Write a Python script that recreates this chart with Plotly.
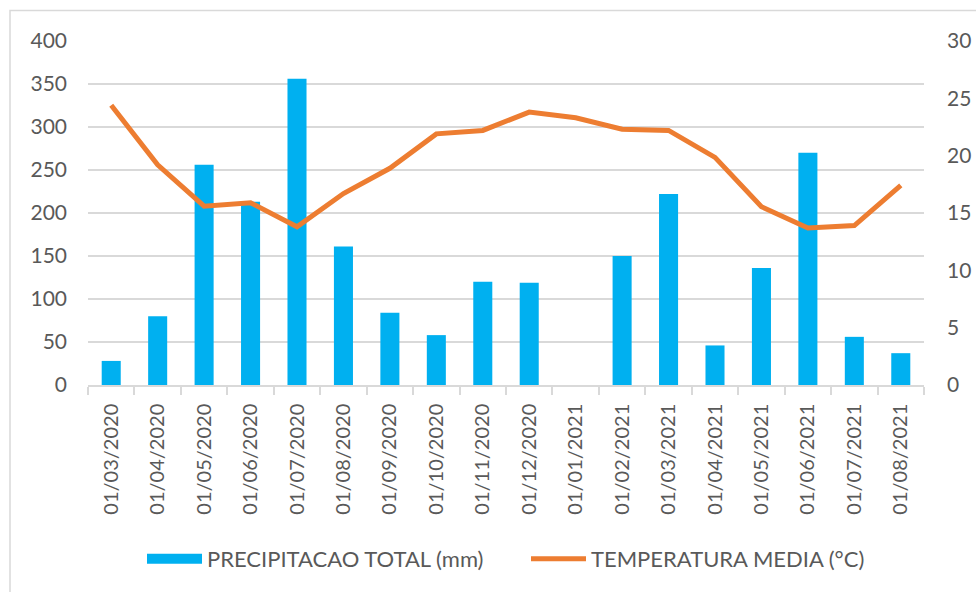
import plotly.graph_objects as go

dates = ["01/03/2020", "01/04/2020", "01/05/2020", "01/06/2020", "01/07/2020",
         "01/08/2020", "01/09/2020", "01/10/2020", "01/11/2020", "01/12/2020",
         "01/01/2021", "01/02/2021", "01/03/2021", "01/04/2021", "01/05/2021",
         "01/06/2021", "01/07/2021", "01/08/2021"]
precip = [28, 80, 256, 213, 356, 161, 84, 58, 120, 119, 0, 150, 222, 46, 136, 270, 56, 37]
temp = [24.4, 19.2, 15.6, 15.9, 13.8, 16.7, 18.9, 21.9, 22.2, 23.8, 23.3, 22.3, 22.2,
        19.85, 15.55, 13.7, 13.9, 17.4]

FONT = "Lato"
GREY = "#595959"
GRID = "#D9D9D9"
BLUE = "#00B0F0"
ORANGE = "#ED7D31"

fig = go.Figure()
fig.add_trace(go.Bar(x=dates, y=precip, name="PRECIPITACAO TOTAL (mm)",
                     marker=dict(color=BLUE, line=dict(width=0)), yaxis="y",
                     showlegend=False))
fig.add_trace(go.Scatter(x=dates, y=temp, name="TEMPERATURA MEDIA (°C)", mode="lines",
                         line=dict(color=ORANGE, width=5), yaxis="y2", showlegend=False))
# legend entries (swatches styled like the original)
fig.add_trace(go.Scatter(x=[dates[0]], y=[None], name="PRECIPITACAO TOTAL (mm)", mode="lines",
                         line=dict(color=BLUE, width=12), yaxis="y"))
fig.add_trace(go.Scatter(x=[dates[0]], y=[None], name="TEMPERATURA MEDIA (°C)", mode="lines",
                         line=dict(color=ORANGE, width=5), yaxis="y2"))

W, H = 976, 592
L, R, T, B = 88, 52, 41, 207
pw, ph = W - L - R, H - T - B

fig.update_layout(
    width=W, height=H,
    margin=dict(l=L, r=R, t=T, b=B, pad=0, autoexpand=False),
    paper_bgcolor="white", plot_bgcolor="white",
    font=dict(family=FONT, size=20, color=GREY),
    bargap=0.59,
    showlegend=True,
    legend=dict(orientation="h", x=(150 - 88 - 8) / pw, xanchor="left",
                y=(385 - 559) / ph, yanchor="middle",
                font=dict(family=FONT, size=22, color=GREY), itemwidth=55,
                entrywidth=314,
                bgcolor="rgba(0,0,0,0)", traceorder="normal"),
    xaxis=dict(type="category", tickangle=-90, showgrid=False, showline=True,
               linecolor=GRID, linewidth=1.5, ticks="outside", tickson="boundaries",
               ticklen=8, tickcolor=GRID, tickwidth=1.5, ticklabelstandoff=9,
               tickfont=dict(family=FONT, size=20, color=GREY)),
    yaxis=dict(range=[0, 400], dtick=50, showgrid=True, gridcolor=GRID, gridwidth=1.5,
               zeroline=False, showline=False, ticks="", ticklabelstandoff=20,
               tickfont=dict(family=FONT, size=21, color=GREY)),
    yaxis2=dict(range=[0, 30], dtick=5, overlaying="y", side="right", showgrid=False,
                zeroline=False, showline=False, ticks="", ticklabelstandoff=22,
                tickfont=dict(family=FONT, size=21, color=GREY)),
    shapes=[dict(type="rect", xref="paper", yref="paper",
                 x0=(10 - L) / pw, x1=(1000 - L) / pw,
                 y0=-400 / ph, y1=(T + ph - 10.5) / ph,
                 line=dict(color=GRID, width=1.5), fillcolor="rgba(0,0,0,0)", layer="below")],
)

fig.write_html("out.html", config={"displayModeBar": False},
               post_script="document.body.style.margin='0';document.body.style.overflow='hidden';")
